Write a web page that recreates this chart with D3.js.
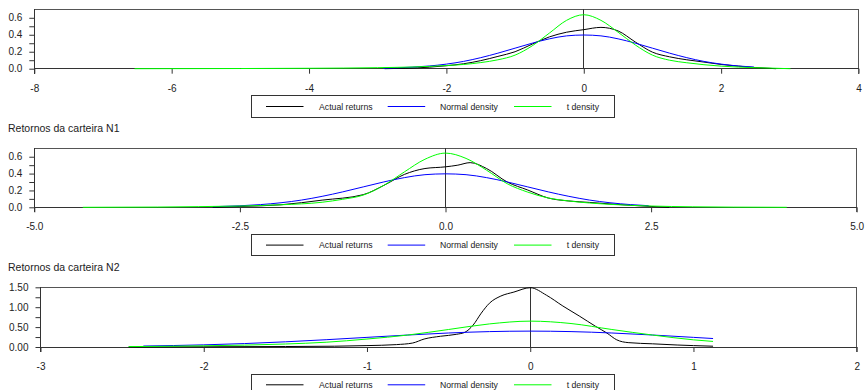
<!DOCTYPE html>
<html>
<head>
<meta charset="utf-8">
<script src="https://cdn.jsdelivr.net/npm/d3@7"></script>
<style>
  body { margin: 0; background: #fff; }
  text { font-family: "Liberation Sans", Arial, sans-serif; fill: #222; }
</style>
</head>
<body>
<svg id="chart"></svg>
<script>
  // chart size
  const W = 865
  const H = 390

  // plain hyphen for negative tick labels
  const loc = d3.formatLocale({ decimal: '.', thousands: ',', grouping: [3], currency: ['', ''], minus: '-' })

  // legend entries
  const seriesNames = ['Actual returns', 'Normal density', 't density']
  const seriesColors = ['#000000', '#0000ff', '#00ff00']

  // panel titles
  const panelTitles = [null, 'Retornos da carteira N1', 'Retornos da carteira N2']

  // tick labels
  const xTicks1 = [-8, -6, -4, -2, 0, 2, 4]
  const xTicks2 = [-5, -2.5, 0, 2.5, 5]
  const xTicks3 = [-3, -2, -1, 0, 1, 2]
  const yTicks1 = [0, 0.2, 0.4, 0.6]
  const yMinor1 = [0, 0.1, 0.2, 0.3, 0.4, 0.5, 0.6]
  const yTicks3 = [0, 0.5, 1, 1.5]
  const yMinor3 = [0, 0.25, 0.5, 0.75, 1, 1.25, 1.5]

  // panel 1 (no title) [x, density]
  const actual1 = [[-2.9, 0], [-2.6, 0.005], [-2.25, 0.018], [-2, 0.035], [-1.75, 0.058], [-1.5, 0.095],
    [-1.25, 0.145], [-1, 0.2], [-0.75, 0.29], [-0.5, 0.375], [-0.25, 0.43], [0, 0.46], [0.25, 0.487],
    [0.5, 0.445], [0.75, 0.315], [1, 0.195], [1.25, 0.14], [1.5, 0.105], [1.75, 0.078], [2, 0.05],
    [2.25, 0.03], [2.5, 0.013], [2.8, 0]]
  const normal1 = [[-2.92, 0.006], [-2.5, 0.018], [-2.25, 0.032], [-2, 0.054], [-1.75, 0.086], [-1.5, 0.13],
    [-1.25, 0.183], [-1, 0.242], [-0.75, 0.301], [-0.5, 0.352], [-0.25, 0.387], [0, 0.397], [0.25, 0.387],
    [0.5, 0.352], [0.75, 0.301], [1, 0.242], [1.25, 0.183], [1.5, 0.13], [1.75, 0.086], [2, 0.054],
    [2.25, 0.032], [2.48, 0.019]]
  const tdens1 = [[-6.54, 0], [-5, 0.002], [-4, 0.005], [-3, 0.012], [-2.5, 0.02], [-2, 0.037], [-1.75, 0.05],
    [-1.5, 0.072], [-1.25, 0.105], [-1, 0.16], [-0.75, 0.27], [-0.5, 0.42], [-0.25, 0.57], [0, 0.636],
    [0.25, 0.57], [0.5, 0.43], [0.75, 0.28], [1, 0.16], [1.25, 0.1], [1.5, 0.07], [2, 0.03], [2.5, 0.012],
    [3.01, 0]]

  // panel 2 - carteira N1
  const actual2 = [[-2.83, 0], [-2.5, 0.01], [-2, 0.03], [-1.5, 0.085], [-1, 0.15], [-0.75, 0.26],
    [-0.5, 0.39], [-0.25, 0.46], [0, 0.48], [0.15, 0.5], [0.3, 0.53], [0.5, 0.46], [0.75, 0.3],
    [1, 0.205], [1.25, 0.11], [1.5, 0.075], [1.75, 0.058], [2, 0.04], [2.5, 0.01], [2.72, 0]]
  const normal2 = [[-2.83, 0.007], [-2.5, 0.018], [-2.25, 0.032], [-2, 0.054], [-1.75, 0.086], [-1.5, 0.13],
    [-1.25, 0.183], [-1, 0.242], [-0.75, 0.301], [-0.5, 0.352], [-0.25, 0.387], [0, 0.397], [0.25, 0.387],
    [0.5, 0.352], [0.75, 0.301], [1, 0.242], [1.25, 0.183], [1.5, 0.13], [1.75, 0.086], [2, 0.054],
    [2.25, 0.032], [2.47, 0.019]]
  const tdens2 = [[-4.41, 0], [-3.5, 0.003], [-3, 0.008], [-2.5, 0.015], [-2, 0.03], [-1.5, 0.06],
    [-1.25, 0.095], [-1, 0.145], [-0.75, 0.26], [-0.5, 0.42], [-0.25, 0.57], [0, 0.643], [0.25, 0.58],
    [0.5, 0.44], [0.75, 0.28], [1, 0.18], [1.25, 0.11], [1.5, 0.075], [2, 0.035], [2.5, 0.015],
    [3, 0.006], [3.5, 0.002], [4.15, 0]]

  // panel 3 - carteira N2
  const actual3 = [[-2.46, 0], [-2, 0.005], [-1.5, 0.012], [-1.2, 0.02], [-1, 0.035], [-0.82, 0.06],
    [-0.72, 0.1], [-0.65, 0.2], [-0.55, 0.27], [-0.45, 0.32], [-0.4, 0.37], [-0.35, 0.55], [-0.3, 0.85],
    [-0.25, 1.1], [-0.18, 1.28], [-0.1, 1.38], [0, 1.49], [0.1, 1.3], [0.2, 1.03], [0.3, 0.78],
    [0.4, 0.52], [0.47, 0.35], [0.53, 0.18], [0.6, 0.11], [0.75, 0.08], [0.9, 0.05], [1, 0.035],
    [1.12, 0.02]]
  const normal3 = [[-2.37, 0.024], [-2, 0.054], [-1.75, 0.086], [-1.5, 0.13], [-1.25, 0.183], [-1, 0.242],
    [-0.75, 0.301], [-0.5, 0.352], [-0.25, 0.387], [0, 0.399], [0.25, 0.387], [0.5, 0.352],
    [0.75, 0.301], [1, 0.242], [1.12, 0.213]]
  const tdens3 = [[-2.46, 0.01], [-2, 0.03], [-1.5, 0.075], [-1.25, 0.12], [-1, 0.2], [-0.75, 0.3],
    [-0.5, 0.44], [-0.25, 0.58], [0, 0.65], [0.25, 0.59], [0.5, 0.44], [0.75, 0.3], [1, 0.18],
    [1.12, 0.14]]

  // layout of each panel
  const panels = [
    { left: 34.3, right: 858.5, top: 9.3, bottom: 68.7, xDom: [-8, 4], yDom: [0, 0.7],
      xTicks: xTicks1, xFmt: loc.format('d'), yTicks: yTicks1, yMinor: yMinor1, yFmt: loc.format('.1f'),
      series: [actual1, normal1, tdens1], title: panelTitles[0] },
    { left: 34.3, right: 856.7, top: 148.3, bottom: 207.3, xDom: [-5, 5], yDom: [0, 0.7],
      xTicks: xTicks2, xFmt: loc.format('.1f'), yTicks: yTicks1, yMinor: yMinor1, yFmt: loc.format('.1f'),
      series: [actual2, normal2, tdens2], title: panelTitles[1] },
    { left: 40.5, right: 856.7, top: 287.3, bottom: 347, xDom: [-3, 2], yDom: [0, 1.5],
      xTicks: xTicks3, xFmt: loc.format('d'), yTicks: yTicks3, yMinor: yMinor3, yFmt: loc.format('.2f'),
      series: [actual3, normal3, tdens3], title: panelTitles[2] }
  ]

  const svg = d3.select('#chart').attr('width', W).attr('height', H)

  panels.forEach(p => {
    const x = d3.scaleLinear().domain(p.xDom).range([p.left, p.right])
    const y = d3.scaleLinear().domain(p.yDom).range([p.bottom, p.top])
    const g = svg.append('g')

    if (p.title) {
      g.append('text').attr('x', 8).attr('y', p.top - 16)
        .style('font-size', '10.5px').text(p.title)
    }

    // x axis ticks + labels
    const xa = g.append('g').attr('transform', `translate(0,${p.bottom})`)
      .call(d3.axisBottom(x).tickValues(p.xTicks).tickFormat(p.xFmt).tickSize(5).tickSizeOuter(0))
    xa.select('.domain').remove()
    xa.selectAll('line').attr('stroke', '#333')
    xa.selectAll('text').attr('y', 16).attr('dy', '0.71em').style('font-size', '10px').attr('fill', '#222')

    // y axis: minor ticks then labelled ones
    const ym = g.append('g').attr('transform', `translate(${p.left},0)`)
      .call(d3.axisLeft(y).tickValues(p.yMinor).tickFormat('').tickSize(5).tickSizeOuter(0))
    ym.select('.domain').remove()
    ym.selectAll('line').attr('stroke', '#333')
    const ya = g.append('g').attr('transform', `translate(${p.left},0)`)
      .call(d3.axisLeft(y).tickValues(p.yTicks).tickFormat(p.yFmt).tickSize(0).tickPadding(12))
    ya.select('.domain').remove()
    ya.selectAll('text').style('font-size', '10px').attr('fill', '#222')

    // frame
    const frame = [
      [p.left, p.top, p.right, p.top, '#555'],
      [p.right, p.top, p.right, p.bottom + 5, '#555'],
      [p.left, p.top, p.left, p.bottom + 5, '#333'],
      [p.left, p.bottom, p.right, p.bottom, '#333'],
      [x(0), p.top, x(0), p.bottom, '#333']
    ]
    g.selectAll('line.frame').data(frame).enter().append('line')
      .attr('class', 'frame')
      .attr('x1', d => d[0]).attr('y1', d => d[1])
      .attr('x2', d => d[2]).attr('y2', d => d[3])
      .attr('stroke', d => d[4]).attr('stroke-width', 1)
      .attr('shape-rendering', 'crispEdges')

    // density curves
    const line = d3.line().x(d => x(d[0])).y(d => y(d[1])).curve(d3.curveMonotoneX)
    p.series.forEach((s, i) => {
      g.append('path').datum(s).attr('d', line)
        .attr('fill', 'none').attr('stroke', seriesColors[i]).attr('stroke-width', 1)
    })

    // legend under the panel
    const ly = p.bottom + 27
    const lg = g.append('g')
    lg.append('rect').attr('x', 251.7).attr('y', ly).attr('width', 362.6).attr('height', 21.6)
      .attr('fill', '#fff').attr('stroke', '#333').attr('shape-rendering', 'crispEdges')
    const lineX = [266, 387.7, 514]
    const textX = [319, 440, 566.7]
    seriesNames.forEach((name, i) => {
      lg.append('line').attr('x1', lineX[i]).attr('x2', lineX[i] + 37.5)
        .attr('y1', ly + 10.8).attr('y2', ly + 10.8)
        .attr('stroke', seriesColors[i]).attr('stroke-width', 1)
      lg.append('text').attr('x', textX[i]).attr('y', ly + 10.8).attr('dy', '0.35em')
        .style('font-size', '8.7px').text(name)
    })
  })
</script>
</body>
</html>
